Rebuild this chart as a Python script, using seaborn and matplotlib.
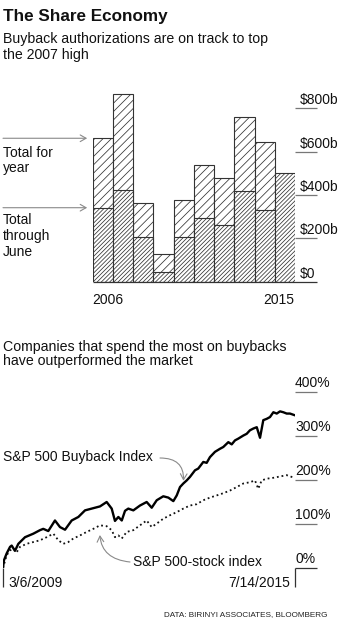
import numpy as np
import pandas as pd
import matplotlib
matplotlib.use("Agg")
import matplotlib.pyplot as plt
import seaborn as sns

# ---------------- data ----------------
years = [2006, 2007, 2008, 2009, 2010, 2011, 2012, 2013, 2014, 2015]
total_for_year = [661, 865, 361, 128, 376, 536, 478, 757, 644, np.nan]
through_june = [341, 423, 207, 43, 207, 293, 260, 418, 329, 499]
bar_ticks = [0, 200, 400, 600, 800]
bar_tick_labels = ["$0", "$200b", "$400b", "$600b", "$800b"]

buyback_dates = [
    "2009-03-06", "2009-03-13", "2009-04-04", "2009-05-01", "2009-05-14", "2009-06-09",
    "2009-07-06", "2009-08-28", "2009-11-02", "2009-12-25", "2010-01-20", "2010-03-01",
    "2010-04-23", "2010-06-02", "2010-07-12", "2010-09-03", "2010-10-26", "2010-12-18",
    "2011-02-09", "2011-04-16", "2011-06-08", "2011-07-18", "2011-08-13", "2011-09-09",
    "2011-10-06", "2011-11-01", "2011-11-27", "2012-01-06", "2012-02-28", "2012-04-21",
    "2012-05-31", "2012-07-10", "2012-08-31", "2012-10-10", "2012-11-19", "2012-12-16",
    "2013-01-11", "2013-02-06", "2013-03-05", "2013-03-31", "2013-05-10", "2013-06-05",
    "2013-07-15", "2013-08-11", "2013-09-06", "2013-10-16", "2013-11-25", "2013-12-21",
    "2014-01-30", "2014-02-26", "2014-03-24", "2014-04-19", "2014-05-29", "2014-06-25",
    "2014-07-21", "2014-08-17", "2014-09-13", "2014-10-09", "2014-11-04", "2014-12-01",
    "2014-12-27", "2015-01-23", "2015-02-19", "2015-03-17", "2015-04-12", "2015-05-09",
    "2015-06-04", "2015-07-14",
]
buyback_pct = [
    0, 17, 33, 48, 51, 39,
    55, 70, 78, 86, 89, 84,
    108, 93, 87, 108, 116, 131,
    135, 140, 150, 135, 107, 116,
    108, 130, 135, 131, 142, 150,
    137, 154, 163, 160, 152, 165,
    184, 192, 199, 207, 222, 226,
    241, 239, 252, 264, 271, 275,
    286, 281, 290, 294, 301, 305,
    313, 317, 320, 296, 336, 339,
    343, 354, 351, 356, 354, 351,
    351, 347,
]

sp_dates = [
    "2009-03-06", "2009-04-04", "2009-05-01", "2009-05-27", "2009-06-23", "2009-07-19",
    "2009-09-10", "2009-11-02", "2009-12-25", "2010-02-16", "2010-04-10", "2010-05-20",
    "2010-06-28", "2010-08-07", "2010-09-16", "2010-11-08", "2010-12-31", "2011-02-22",
    "2011-04-16", "2011-06-08", "2011-07-18", "2011-08-13", "2011-09-09", "2011-10-06",
    "2011-11-14", "2012-01-06", "2012-02-28", "2012-04-21", "2012-05-31", "2012-07-10",
    "2012-08-31", "2012-10-24", "2012-12-16", "2013-02-06", "2013-03-31", "2013-05-24",
    "2013-07-15", "2013-09-06", "2013-10-30", "2013-12-21", "2014-02-12", "2014-04-07",
    "2014-05-29", "2014-07-21", "2014-08-30", "2014-09-25", "2014-10-22", "2014-12-01",
    "2015-01-23", "2015-03-17", "2015-05-09", "2015-06-18", "2015-07-14",
]
sp_pct = [
    0, 29, 40, 44, 36, 48,
    55, 59, 63, 70, 78, 63,
    55, 59, 67, 74, 82, 89,
    97, 95, 86, 70, 74, 67,
    82, 86, 97, 108, 93, 101,
    112, 120, 127, 135, 142, 145,
    154, 160, 165, 170, 176, 184,
    192, 195, 199, 180, 199, 203,
    205, 208, 211, 207, 205,
]
line_ticks = [0, 100, 200, 300, 400]
line_tick_labels = ["0%", "100%", "200%", "300%", "400%"]

# ---------------- layout helpers ----------------
W, H = 347, 624
def fx(x):
    return x / W
def fy(y):
    return 1 - y / H

sns.set_theme(style="white")
plt.rcParams["font.family"] = ["Liberation Sans", "DejaVu Sans"]
plt.rcParams["hatch.linewidth"] = 0.55

fig = plt.figure(figsize=(W / 100, H / 100), dpi=100)
fig.patch.set_facecolor("white")

TXT = "#111111"
GRID = "#777777"
ARROW = "#8a8a8a"

# ---------------- titles ----------------
fig.text(fx(3), fy(20.5), "The Share Economy", fontsize=12.3, fontweight="bold", color=TXT, va="baseline")
fig.text(fx(3), fy(43), "Buyback authorizations are on track to top", fontsize=10.2, color=TXT, va="baseline")
fig.text(fx(3), fy(59), "the 2007 high", fontsize=10.2, color=TXT, va="baseline")

# ---------------- bar chart ----------------
bar_bottom_px, bar_left_px, bar_right_px = 281.7, 92.7, 295.0
px_per_b = 43.4 / 200
bar_ymax = 950
bar_h_px = bar_ymax * px_per_b
ax1 = fig.add_axes([fx(bar_left_px), fy(bar_bottom_px), (bar_right_px - bar_left_px) / W, bar_h_px / H])

df_bar = pd.DataFrame({"year": [str(y) for y in years], "total": total_for_year, "june": through_june})
order = [str(y) for y in years]
sns.barplot(data=df_bar, x="year", y="total", order=order, color="white", width=1.0,
            edgecolor="#333333", linewidth=0.8, hatch="////", errorbar=None, ax=ax1, saturation=1)
sns.barplot(data=df_bar, x="year", y="june", order=order, color="white", width=1.0,
            edgecolor="#333333", linewidth=0.8, hatch="////////", errorbar=None, ax=ax1, saturation=1)
ax1.set_ylim(0, bar_ymax)
ax1.set_xlim(-0.5, len(years) - 0.5)
ax1.set_axis_off()

ext1 = 1 + 22 / (bar_right_px - bar_left_px)
ytr1 = ax1.get_yaxis_transform()
for v, lab in zip(bar_ticks, bar_tick_labels):
    ax1.hlines(v, 1.0 if v else 0.0, ext1, transform=ytr1, color=GRID if v else "#333333",
               lw=0.9, clip_on=False)
    ax1.annotate(lab, xy=(1.0 + 5 / (bar_right_px - bar_left_px), v), xycoords=ytr1,
                 xytext=(0, 4), textcoords="offset pixels", fontsize=10, color=TXT,
                 ha="left", va="baseline", annotation_clip=False)

fig.text(fx(bar_left_px), fy(304), str(years[0]), fontsize=10, color=TXT, va="baseline", ha="left")
fig.text(fx(bar_right_px - 1), fy(304), str(years[-1]), fontsize=10, color=TXT, va="baseline", ha="right")

# arrows + labels on the left
for val in (total_for_year[0], through_june[0]):
    ax1.annotate("", xy=(-0.5, val), xycoords=("data", "data"),
                 xytext=(fx(3), val), textcoords=("figure fraction", "data"),
                 arrowprops=dict(arrowstyle="->,head_length=0.35,head_width=0.2", color=ARROW,
                                 lw=0.8, shrinkA=0, shrinkB=4), annotation_clip=False)
fig.text(fx(3), fy(157), "Total for", fontsize=10, color=TXT, va="baseline")
fig.text(fx(3), fy(172), "year", fontsize=10, color=TXT, va="baseline")
fig.text(fx(3), fy(224), "Total", fontsize=10, color=TXT, va="baseline")
fig.text(fx(3), fy(240), "through", fontsize=10, color=TXT, va="baseline")
fig.text(fx(3), fy(256), "June", fontsize=10, color=TXT, va="baseline")

# ---------------- line chart ----------------
fig.text(fx(3), fy(350.5), "Companies that spend the most on buybacks", fontsize=10.2, color=TXT, va="baseline")
fig.text(fx(3), fy(365.5), "have outperformed the market", fontsize=10.2, color=TXT, va="baseline")

line_zero_px, line_left_px, line_right_px = 568.0, 3.0, 295.0
px_per_pct = 44 / 100
line_ymax = 400
ax2 = fig.add_axes([fx(line_left_px), fy(line_zero_px), (line_right_px - line_left_px) / W,
                    line_ymax * px_per_pct / H])

df_bb = pd.DataFrame({"date": pd.to_datetime(buyback_dates), "pct": buyback_pct})
df_sp = pd.DataFrame({"date": pd.to_datetime(sp_dates), "pct": sp_pct})
sns.lineplot(data=df_sp, x="date", y="pct", color="#111111", lw=1.3, linestyle=(0, (1, 1.6)), ax=ax2)
sns.lineplot(data=df_bb, x="date", y="pct", color="#000000", lw=1.7, ax=ax2)
ax2.set_xlim(df_bb["date"].iloc[0], df_bb["date"].iloc[-1])
ax2.set_ylim(0, line_ymax)
ax2.set_axis_off()

ext2 = 1 + 22 / (line_right_px - line_left_px)
ytr2 = ax2.get_yaxis_transform()
xtr2 = ax2.get_xaxis_transform()
for v, lab in zip(line_ticks, line_tick_labels):
    ax2.hlines(v, 1.0, ext2, transform=ytr2, color=GRID if v else "#333333", lw=0.9, clip_on=False)
    ax2.annotate(lab, xy=(1.0, v), xycoords=ytr2, xytext=(0, 5), textcoords="offset pixels",
                 fontsize=10, color=TXT, ha="left", va="baseline", annotation_clip=False)
tick_len = -19 / (line_ymax * px_per_pct)
ax2.vlines([df_bb["date"].iloc[0], df_bb["date"].iloc[-1]], tick_len, 0, transform=xtr2,
           color="#333333", lw=0.9, clip_on=False)

fig.text(fx(8), fy(587), "3/6/2009", fontsize=10, color=TXT, va="baseline", ha="left")
fig.text(fx(290), fy(587), "7/14/2015", fontsize=10, color=TXT, va="baseline", ha="right")

# annotations
i_bb = buyback_dates.index("2013-02-06")
ax2.annotate("", xy=(df_bb["date"].iloc[i_bb], buyback_pct[i_bb]), xycoords="data",
             xytext=(fx(160), fy(458)), textcoords="figure fraction",
             arrowprops=dict(arrowstyle="->,head_length=0.35,head_width=0.2", color=ARROW, lw=0.8,
                             shrinkA=0, shrinkB=2, connectionstyle="arc3,rad=-0.55"),
             annotation_clip=False)
fig.text(fx(3), fy(461), "S&P 500 Buyback Index", fontsize=10, color=TXT, va="baseline")

i_sp = sp_dates.index("2011-04-16")
ax2.annotate("", xy=(df_sp["date"].iloc[i_sp], sp_pct[i_sp]), xycoords="data",
             xytext=(fx(130), fy(562)), textcoords="figure fraction",
             arrowprops=dict(arrowstyle="->,head_length=0.35,head_width=0.2", color=ARROW, lw=0.8,
                             shrinkA=0, shrinkB=7, connectionstyle="arc3,rad=-0.5"),
             annotation_clip=False)
fig.text(fx(133), fy(566.5), "S&P 500-stock index", fontsize=10, color=TXT, va="baseline")

fig.text(fx(328), fy(616), "DATA: BIRINYI ASSOCIATES, BLOOMBERG", fontsize=5.9, color="#222222",
         va="baseline", ha="right")

fig.savefig("out.png", dpi=100, facecolor="white")
